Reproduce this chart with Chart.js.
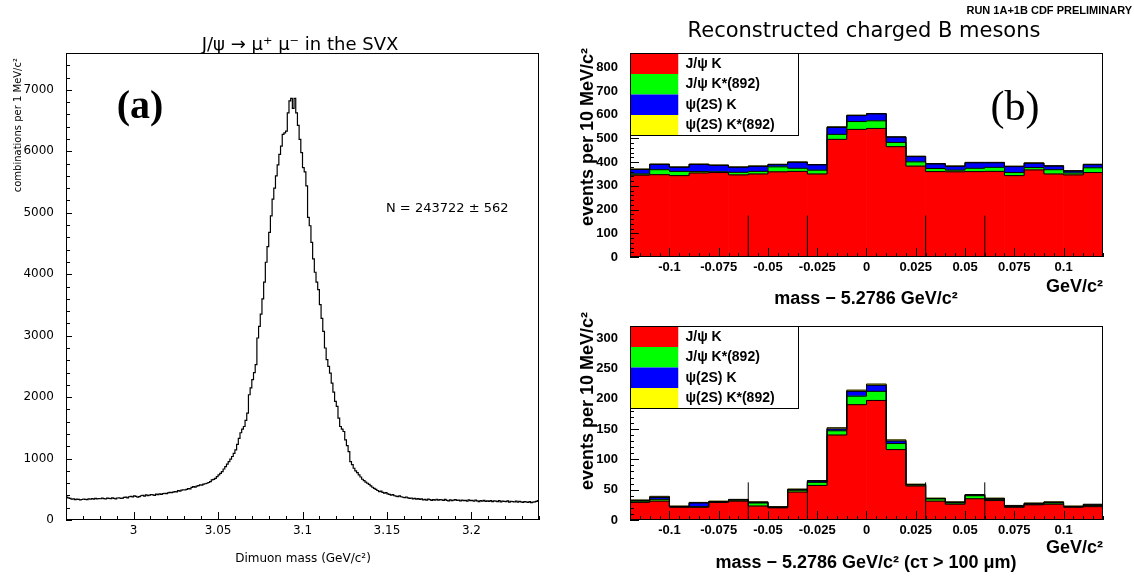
<!DOCTYPE html>
<html>
<head>
<meta charset="utf-8">
<script src="https://cdn.jsdelivr.net/npm/chart.js@4.4.1/dist/chart.umd.min.js"></script>
<style>
  body { margin: 0; background: #fff; }
  #wrap { position: relative; width: 1134px; height: 576px; }
  canvas { position: absolute; }
</style>
</head>
<body>
<div id="wrap">
  <canvas id="dimuonChart" width="560" height="576" style="left:0;top:0"></canvas>
  <canvas id="bChart" width="574" height="306" style="left:560px;top:0"></canvas>
  <canvas id="bChartCut" width="574" height="270" style="left:560px;top:306px"></canvas>
</div>
<script>
// (a) dimuon mass, 1 MeV bins from 2.96 GeV
const massStart = 2.96;
const massBin = 0.001;
const dimuonCounts = [
    372, 360, 352, 338, 345, 333, 340, 336, 326, 334, 342, 335, 330, 345, 338, 348, 340, 352, 344, 350,
    346, 355, 348, 342, 356, 353, 347, 360, 352, 345, 358, 362, 350, 356, 368, 372, 360, 378, 384, 375,
    391, 386, 370, 380, 395, 402, 390, 408, 398, 404, 415, 410, 402, 420, 412, 425, 418, 430, 435, 428,
    440, 448, 446, 455, 462, 458, 478, 470, 485, 492, 488, 500, 512, 505, 530, 543, 535, 552, 560, 571,
    566, 584, 590, 598, 610, 625, 652, 660, 679, 705, 734, 760, 788, 830, 870, 910, 951, 990, 1033, 1085,
    1141, 1230, 1330, 1420, 1480, 1522, 1620, 1739, 2038, 2150, 2283, 2400, 2527, 2962, 3150, 3350, 3600, 3870, 4195, 4450,
    4681, 4950, 5222, 5400, 5600, 5780, 5951, 6086, 6276, 6300, 6330, 6627, 6820, 6860, 6700, 6860, 6627, 6422, 6195, 5978,
    5735, 5665, 5438, 4924, 4789, 4519, 4249, 4032, 3870, 3750, 3505, 3280, 3071, 2799, 2609, 2500, 2391, 2228, 2080, 1929,
    1848, 1658, 1522, 1480, 1440, 1304, 1210, 1114, 951, 900, 842, 800, 770, 734, 700, 663, 640, 615, 598, 580,
    555, 533, 515, 498, 480, 462, 470, 450, 438, 445, 424, 418, 405, 412, 395, 388, 380, 392, 378, 370,
    365, 374, 360, 353, 358, 345, 352, 340, 348, 336, 344, 326, 335, 322, 340, 330, 318, 332, 325, 338,
    322, 330, 326, 318, 335, 320, 312, 328, 316, 324, 330, 318, 325, 310, 322, 315, 320, 308, 326, 314,
    318, 305, 322, 312, 300, 316, 308, 320, 302, 312, 304, 315, 298, 310, 306, 300, 314, 296, 308, 302,
    298, 310, 292, 305, 300, 293, 306, 290, 302, 296, 288, 300, 294, 285, 298, 283, 290, 296, 304, 315
];
const massTicks = [3, 3.05, 3.1, 3.15, 3.2];
const countTicks = [0, 1000, 2000, 3000, 4000, 5000, 6000, 7000];

// (b) B mass difference, 10 MeV bins
const deltaCenters = [-0.115, -0.105, -0.095, -0.085, -0.075, -0.065, -0.055, -0.045, -0.035, -0.025, -0.015, -0.005,
    0.005, 0.015, 0.025, 0.035, 0.045, 0.055, 0.065, 0.075, 0.085, 0.095, 0.105, 0.115];
const deltaTicks = [-0.1, -0.075, -0.05, -0.025, 0, 0.025, 0.05, 0.075, 0.1];
const sidebandEdges = [-0.06, -0.03, 0.03, 0.06];
const channelNames = ["J/\u03c8 K", "J/\u03c8 K*(892)", "\u03c8(2S) K", "\u03c8(2S) K*(892)"];
const channelColors = ["#ff0000", "#00ff00", "#0000ff", "#ffff00"];

const allJpsiK      = [345, 347, 343, 354, 356, 346, 350, 359, 361, 350, 496, 538, 542, 465, 383, 360, 359, 360, 361, 343, 367, 350, 346, 356];
const allJpsiKstar  = [5, 21, 18, 6, 3, 11, 11, 21, 13, 16, 21, 33, 32, 18, 18, 13, 7, 14, 17, 13, 10, 18, 8, 20];
const allPsi2sK     = [19, 22, 17, 30, 27, 21, 21, 9, 25, 22, 29, 25, 29, 22, 22, 19, 16, 23, 19, 25, 18, 15, 8, 13];
const allPsi2sKstar = [2, 2, 2, 2, 2, 2, 2, 2, 2, 2, 3, 2, 2, 2, 2, 2, 2, 2, 2, 2, 2, 2, 2, 2];
const allTicks = [0, 100, 200, 300, 400, 500, 600, 700, 800];
const allMarkerTop = 175;

const cutJpsiK      = [29, 31, 21, 21, 29, 31, 23, 20, 46, 57, 140, 190, 197, 116, 56, 31, 26, 35, 32, 21, 25, 26, 21, 22];
const cutJpsiKstar  = [2, 3, 1, 1, 1, 2, 5, 1, 3, 5, 7, 14, 15, 10, 2, 4, 2, 5, 2, 1, 1, 2, 1, 2];
const cutPsi2sK     = [1, 3, 0, 6, 0, 0, 1, 0, 1, 2, 3, 8, 10, 4, 0, 0, 1, 1, 1, 1, 1, 1, 0, 1];
const cutPsi2sKstar = [1, 2, 1, 1, 1, 1, 1, 1, 1, 1, 2, 2, 2, 2, 1, 1, 1, 1, 1, 1, 1, 1, 1, 1];
const cutTicks = [0, 50, 100, 150, 200, 250, 300];
const cutMarkerTop = 62;

const SANS = "'DejaVu Sans', sans-serif";
const HELV = "'Liberation Sans', Arial, sans-serif";
const SERIF = "'Liberation Serif', 'DejaVu Serif', serif";

function histPoints(low, width, values) {
    const pts = values.map((v, i) => ({ x: low + i * width, y: v }));
    pts.push({ x: low + values.length * width, y: values[values.length - 1] });
    return pts;
}

function cumulative(lists) {
    let run = lists[0].map(() => 0);
    return lists.map(l => (run = run.map((r, i) => r + l[i])));
}

function stepValues(min, max, step) {
    const out = [];
    for (let n = Math.ceil(min / step - 1e-6); n <= Math.floor(max / step + 1e-6); n++) out.push(n * step);
    return out;
}

// box round the plot area, ticks pointing inwards
const frame = {
    id: "frame",
    afterDatasetsDraw(chart, args, o) {
        const { ctx, chartArea: a } = chart;
        const x = chart.scales.x, y = chart.scales.y;
        ctx.save();
        ctx.strokeStyle = "#000";
        ctx.lineWidth = 1;
        ctx.beginPath();
        stepValues(x.min, x.max, o.xMinor).forEach(v => {
            const major = x.ticks.some(t => Math.abs(t.value - v) < o.xMinor / 10);
            const px = Math.round(x.getPixelForValue(v)) + 0.5;
            ctx.moveTo(px, a.bottom);
            ctx.lineTo(px, a.bottom - (major ? o.xMajorLen : o.minorLen));
        });
        stepValues(y.min, y.max, o.yMinor).forEach(v => {
            const major = y.ticks.some(t => Math.abs(t.value - v) < o.yMinor / 10);
            const py = Math.round(y.getPixelForValue(v)) + 0.5;
            ctx.moveTo(a.left, py);
            ctx.lineTo(a.left + (major ? o.yMajorLen : o.minorLen), py);
        });
        ctx.stroke();
        ctx.lineWidth = o.boxWidth || 1;
        ctx.strokeRect(Math.round(a.left) + 0.5, Math.round(a.top) + 0.5,
            Math.round(a.width) - 1, Math.round(a.height) - 1);
        ctx.restore();
    }
};

// free text: titles, axis titles, panel letters
const labels = {
    id: "labels",
    afterDraw(chart, args, o) {
        const ctx = chart.ctx;
        (o.items || []).forEach(it => {
            ctx.save();
            ctx.font = it.font;
            ctx.fillStyle = "#000";
            ctx.textAlign = it.align || "center";
            ctx.textBaseline = "middle";
            ctx.translate(it.x, it.y);
            if (it.rot) ctx.rotate(it.rot);
            ctx.fillText(it.t, 0, 0);
            ctx.restore();
        });
    }
};

// legend box in the upper left corner of the frame
const legendBox = {
    id: "legendBox",
    afterDraw(chart, args, o) {
        const { ctx, chartArea: a } = chart;
        const bars = chart.data.datasets.filter(d => d.type === "bar");
        const left = Math.round(a.left) + 0.5, top = Math.round(a.top) + 0.5;
        ctx.save();
        bars.forEach((d, i) => {
            ctx.fillStyle = d.backgroundColor;
            ctx.fillRect(left, top + i * o.rowH, o.swatchW, o.rowH);
        });
        ctx.fillStyle = "#fff";
        ctx.fillRect(left + o.swatchW, top, o.w - o.swatchW, o.rowH * bars.length);
        ctx.fillStyle = "#000";
        ctx.font = o.font;
        ctx.textBaseline = "middle";
        bars.forEach((d, i) => ctx.fillText(d.label, left + o.textX, top + (i + 0.5) * o.rowH));
        ctx.strokeStyle = "#000";
        ctx.lineWidth = 1;
        ctx.strokeRect(left, top, o.w, o.rowH * bars.length);
        ctx.restore();
    }
};

new Chart(document.getElementById("dimuonChart"), {
    type: "line",
    data: {
        datasets: [{
            data: histPoints(massStart, massBin, dimuonCounts),
            stepped: true,
            borderColor: "#000",
            borderWidth: 1.2,
            pointRadius: 0,
            fill: false
        }]
    },
    options: {
        responsive: false,
        animation: false,
        events: [],
        layout: { padding: { top: 53, right: 21, left: 0, bottom: 0 } },
        scales: {
            x: {
                type: "linear",
                min: massStart,
                max: massStart + dimuonCounts.length * massBin,
                grid: { display: false, drawTicks: false },
                border: { display: false },
                afterBuildTicks: s => { s.ticks = massTicks.map(v => ({ value: v })); },
                afterFit: s => { s.height = 56; },
                ticks: { callback: v => String(v), padding: 4, color: "#000", maxRotation: 0, autoSkip: false,
                         font: { family: SANS, size: 12 } }
            },
            y: {
                min: 0,
                max: 7600,
                grid: { display: false, drawTicks: false },
                border: { display: false },
                afterBuildTicks: s => { s.ticks = countTicks.map(v => ({ value: v })); },
                afterFit: s => { s.width = 66; },
                ticks: { callback: v => String(v), padding: 12, color: "#000", font: { family: SANS, size: 12 } }
            }
        },
        plugins: {
            legend: { display: false },
            tooltip: { enabled: false },
            frame: { xMinor: 0.01, yMinor: 200, xMajorLen: 8, yMajorLen: 6, minorLen: 4 },
            labels: {
                items: [
                    { t: "J/\u03c8 \u2192 \u03bc\u207a \u03bc\u207b in the SVX", x: 300, y: 45, font: "18px " + SANS },
                    { t: "(a)", x: 140, y: 108, font: "bold 40px " + SERIF },
                    { t: "N = 243722 \u00b1 562", x: 386, y: 209, align: "left", font: "13px " + SANS },
                    { t: "combinations per 1 MeV/c\u00b2", x: 18, y: 58, align: "right", rot: -Math.PI / 2, font: "10px " + SANS },
                    { t: "Dimuon mass (GeV/c\u00b2)", x: 303, y: 559, font: "12px " + SANS }
                ]
            }
        }
    },
    plugins: [frame, labels]
});

function makeBChart(id, parts, yMax, yTicks, yMinor, markerTop, geom, texts) {
    const binW = deltaCenters[1] - deltaCenters[0];
    const low = deltaCenters[0] - binW / 2;
    const bars = parts.map((vals, k) => ({
        type: "bar",
        label: channelNames[k],
        data: vals.map((v, i) => ({ x: deltaCenters[i], y: v })),
        backgroundColor: channelColors[k],
        borderWidth: 0,
        barPercentage: 1,
        categoryPercentage: 1,
        stack: "b",
        order: 2
    }));
    const outlines = cumulative(parts).map((vals, k) => ({
        type: "line",
        data: histPoints(low, binW, vals),
        stepped: true,
        borderColor: "#000",
        borderWidth: 1,
        pointRadius: 0,
        fill: false,
        stack: "o" + k,
        order: 1
    }));
    const markers = sidebandEdges.map((e, k) => ({
        type: "line",
        data: [{ x: e, y: 0 }, { x: e, y: markerTop }],
        borderColor: "#000",
        borderWidth: 1,
        pointRadius: 0,
        fill: false,
        stack: "m" + k,
        order: 0
    }));
    return new Chart(document.getElementById(id), {
        type: "bar",
        data: { datasets: bars.concat(outlines, markers) },
        options: {
            responsive: false,
            animation: false,
            events: [],
            layout: { padding: { top: geom.top, right: 31, left: 0, bottom: 0 } },
            scales: {
                x: {
                    type: "linear",
                    min: low,
                    max: low + deltaCenters.length * binW,
                    offset: false,
                    grid: { display: false, drawTicks: false, offset: false },
                    border: { display: false },
                    afterBuildTicks: s => { s.ticks = deltaTicks.map(v => ({ value: v })); },
                    afterFit: s => { s.height = geom.xAxisH; },
                    ticks: { callback: v => String(v), padding: 3, color: "#000", maxRotation: 0, autoSkip: false,
                             font: { family: HELV, size: 13, weight: "bold" } }
                },
                y: {
                    stacked: true,
                    min: 0,
                    max: yMax,
                    grid: { display: false, drawTicks: false },
                    border: { display: false },
                    afterBuildTicks: s => { s.ticks = yTicks.map(v => ({ value: v })); },
                    afterFit: s => { s.width = 70; },
                    ticks: { callback: v => String(v), padding: 12, color: "#000",
                             font: { family: HELV, size: 13, weight: "bold" } }
                }
            },
            plugins: {
                legend: { display: false },
                tooltip: { enabled: false },
                frame: { xMinor: 0.005, yMinor: yMinor, xMajorLen: 9, yMajorLen: 9, minorLen: 4 },
                legendBox: { w: 168, rowH: 20.5, swatchW: 48, textX: 55, font: "bold 14px " + HELV },
                labels: { items: texts }
            }
        },
        plugins: [frame, labels, legendBox]
    });
}

makeBChart("bChart", [allJpsiK, allJpsiKstar, allPsi2sK, allPsi2sKstar], 860, allTicks, 20, allMarkerTop,
    { top: 53, xAxisH: 49 },
    [
        { t: "RUN 1A+1B CDF PRELIMINARY", x: 572, y: 11, align: "right", font: "bold 11px " + HELV },
        { t: "Reconstructed charged B mesons", x: 304, y: 32, font: "21px " + SANS },
        { t: "(b)", x: 455, y: 109, font: "42px " + SERIF },
        { t: "events per 10 MeV/c\u00b2", x: 28, y: 48, align: "right", rot: -Math.PI / 2, font: "bold 18px " + HELV },
        { t: "mass \u2212 5.2786 GeV/c\u00b2", x: 306, y: 299, font: "bold 18px " + HELV },
        { t: "GeV/c\u00b2", x: 543, y: 287, align: "right", font: "bold 18px " + HELV }
    ]);

makeBChart("bChartCut", [cutJpsiK, cutJpsiKstar, cutPsi2sK, cutPsi2sKstar], 320, cutTicks, 10, cutMarkerTop,
    { top: 9, xAxisH: 56 },
    [
        { t: "events per 10 MeV/c\u00b2", x: 28, y: 6, align: "right", rot: -Math.PI / 2, font: "bold 18px " + HELV },
        { t: "mass \u2212 5.2786 GeV/c\u00b2 (c\u03c4 > 100 \u03bcm)", x: 306, y: 257, font: "bold 18px " + HELV },
        { t: "GeV/c\u00b2", x: 543, y: 242, align: "right", font: "bold 18px " + HELV }
    ]);
</script>
</body>
</html>
